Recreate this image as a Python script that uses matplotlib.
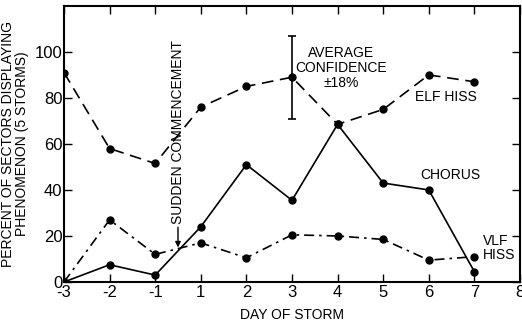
import numpy as np
import matplotlib
matplotlib.use('Agg')
import matplotlib.pyplot as plt

plt.rcParams['font.family'] = ['Liberation Sans', 'DejaVu Sans']

# axis ticks (there is no day 0 on this axis)
day_labels = ['-3', '-2', '-1', '1', '2', '3', '4', '5', '6', '7', '8']
days = ['-3', '-2', '-1', '1', '2', '3', '4', '5', '6', '7']

elf_hiss = [91, 58, 51.5, 76, 85, 89, 68.5, 75, 90, 87]
chorus = [0, 7.5, 3, 24, 51, 35.5, 68.5, 43, 40, 4.5]
vlf_hiss = [0, 27, 12, 17, 10.5, 20.5, 20, 18.5, 9.5, 11]

conf_day = '3'
conf_center = 88.7
conf_halfwidth = 18
sc_pos = 2.5  # between day -1 and day 1

pos = {lab: i for i, lab in enumerate(day_labels)}
x = [pos[d] for d in days]

fig = plt.figure(figsize=(5.22, 3.26), dpi=100)
ax = fig.add_axes([0.1226, 0.135, 0.8735, 0.847])

mk = dict(marker='o', markersize=5, color='black', lw=1.2)
ax.plot(x, elf_hiss, ls=(0, (7, 4)), **mk)
ax.plot(x, chorus, ls='-', **mk)
ax.plot(x, vlf_hiss, ls=(0, (6, 3, 1.5, 3)), **mk)

ax.errorbar([pos[conf_day]], [conf_center], yerr=conf_halfwidth, fmt='none',
            ecolor='black', elinewidth=1.2, capsize=3, capthick=1.2)

ax.set_xlim(0, 10)
ax.set_ylim(0, 120)
ax.set_xticks(range(len(day_labels)))
ax.set_xticklabels(day_labels)
ax.set_yticks([0, 20, 40, 60, 80, 100])
ax.tick_params(direction='in', length=6, width=1, labelsize=12, top=True, right=True,
               pad=2)
ax.tick_params(axis='y', pad=1)
for sp in ax.spines.values():
    sp.set_linewidth(1.5)

ax.set_xlabel('DAY OF STORM', fontsize=10, labelpad=6)
ax.set_ylabel('PERCENT OF SECTORS DISPLAYING\nPHENOMENON (5 STORMS)', fontsize=10,
              linespacing=1.0, labelpad=4)

fs = 10
ax.text(6.07, 93, 'AVERAGE\nCONFIDENCE\n\u00b118%', ha='center', va='center',
        fontsize=fs, linespacing=1.05)
ax.text(8.37, 80.5, 'ELF HISS', ha='center', va='center', fontsize=fs)
ax.text(8.47, 46.5, 'CHORUS', ha='center', va='center', fontsize=fs)
ax.text(9.18, 14.8, 'VLF\nHISS', ha='left', va='center', fontsize=fs, linespacing=1.0)

ax.annotate('SUDDEN COMMENCEMENT', xy=(sc_pos, 15), xytext=(sc_pos, 25),
            rotation=90, ha='center', va='bottom', fontsize=fs,
            arrowprops=dict(arrowstyle='-|>', color='black', lw=1, mutation_scale=8,
                            shrinkA=0, shrinkB=0))

fig.savefig('out.png', dpi=100)
